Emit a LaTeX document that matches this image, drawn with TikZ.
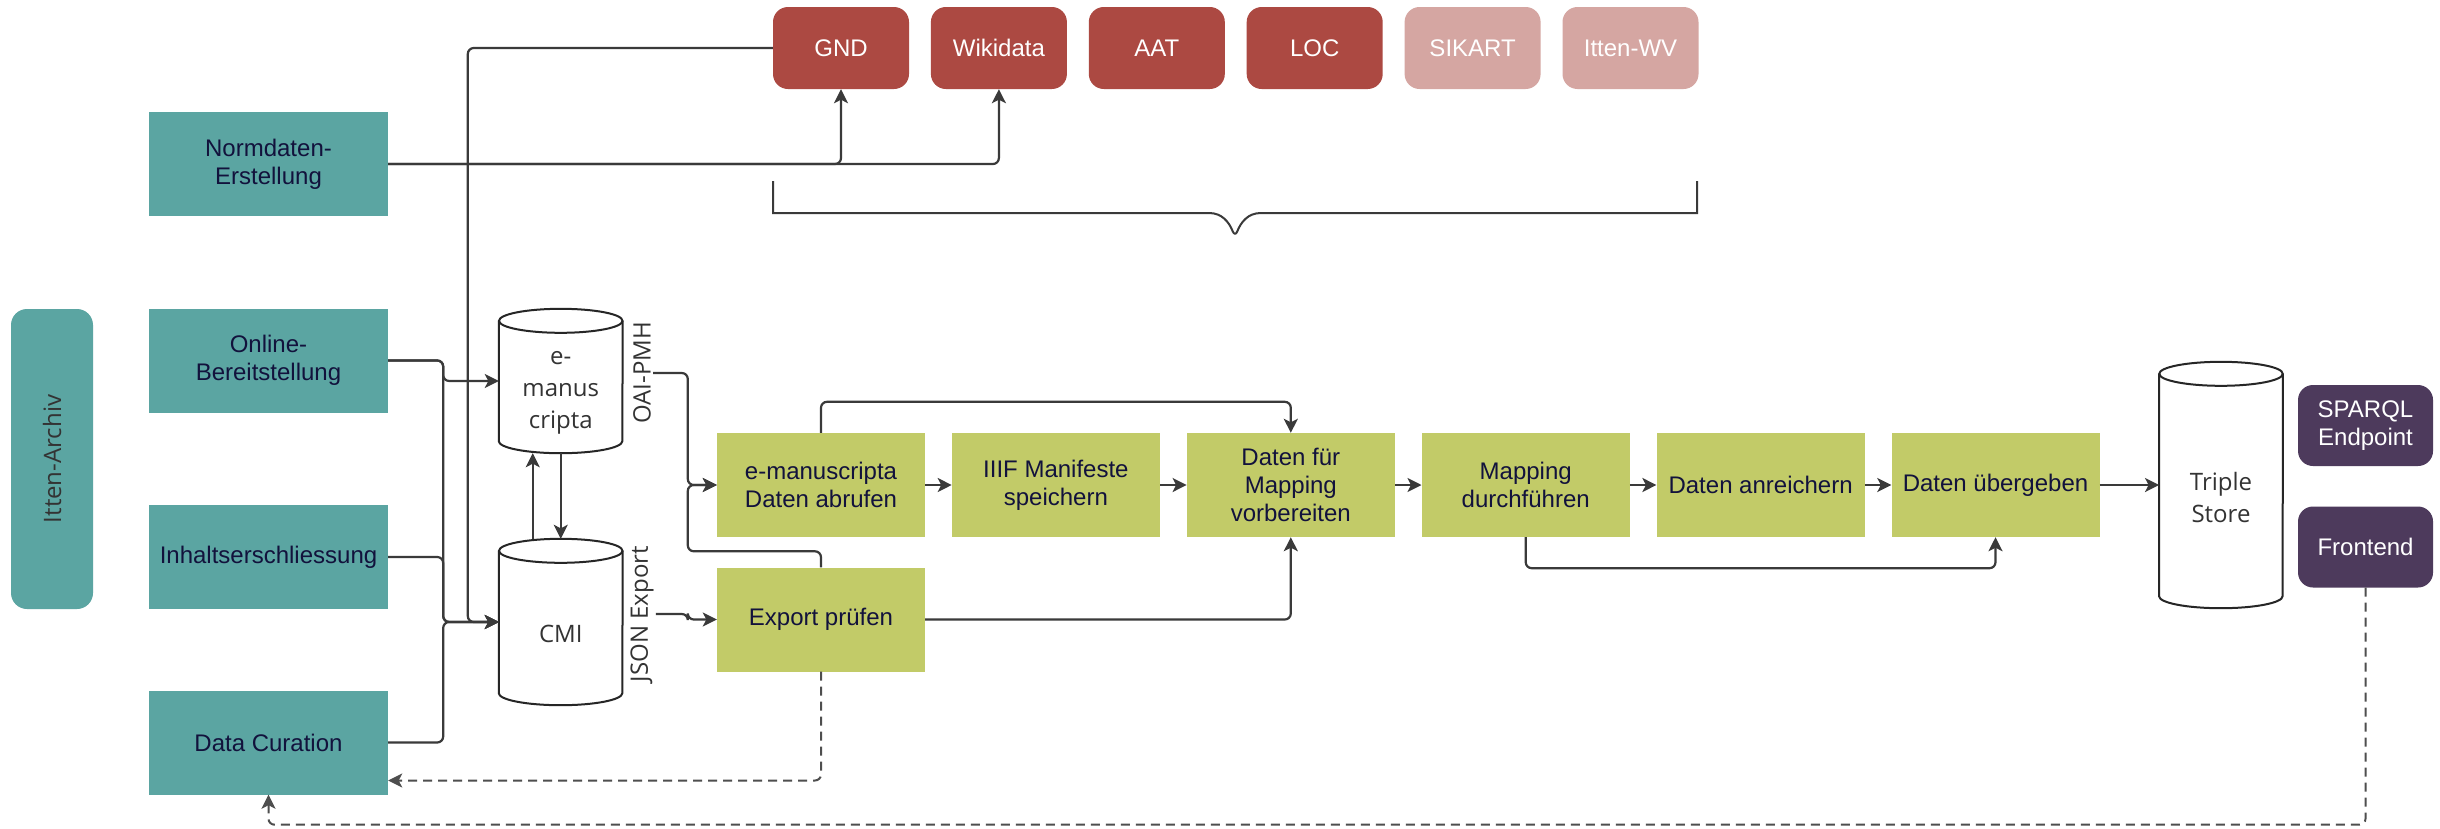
\documentclass[tikz,border=0pt]{standalone}
\usepackage{fontspec}
\setmainfont{Liberation Sans}
\newfontfamily\opensans{Open Sans}
\usetikzlibrary{positioning,arrows.meta,calc}

\definecolor{unitcol}{HTML}{5BA5A2}
\definecolor{taskcol}{HTML}{C2CB68}
\definecolor{authcol}{HTML}{AC4942}
\definecolor{authpale}{HTML}{D5A6A2}
\definecolor{accesscol}{HTML}{4D3A5C}
\definecolor{navytext}{HTML}{12123C}
\definecolor{linecol}{HTML}{3A3A3A}
\definecolor{dbtextcol}{HTML}{333333}

\newcommand{\dbshape}[1]{%
  \draw[dbline] ([yshift=-12pt]#1.north west) -- ([yshift=12pt]#1.south west)
    arc[start angle=180, end angle=360, x radius=61.75pt, y radius=12pt]
    -- ([yshift=-12pt]#1.north east);
  \draw[dbline] ([yshift=-12pt]#1.north) ellipse [x radius=61.75pt, y radius=12pt];}

\begin{document}
\begin{tikzpicture}[x=1pt,y=-1pt,
  every node/.style={font=\fontsize{24}{28}\selectfont},
  archivbox/.style={fill=unitcol, rounded corners=16pt, minimum width=82pt,
    minimum height=300pt, inner sep=0pt},
  unitbox/.style={fill=unitcol, text=navytext, minimum width=239pt,
    minimum height=104pt, align=center, inner sep=0pt},
  authbox/.style={fill=authcol, text=white, rounded corners=15pt,
    minimum width=136pt, minimum height=82pt, inner sep=0pt},
  authpalebox/.style={authbox, fill=authpale},
  taskbox/.style={fill=taskcol, text=navytext, minimum width=208pt,
    minimum height=104pt, align=center, inner sep=0pt},
  accessbox/.style={fill=accesscol, text=white, rounded corners=15pt,
    minimum width=135pt, minimum height=81pt, align=center, inner sep=0pt},
  db/.style={minimum width=123.5pt, inner sep=0pt},
  dbtext/.style={font=\opensans\fontsize{24}{32}\selectfont, text=dbtextcol,
    align=center},
  dbline/.style={line width=2pt, draw=black!85},
  sidelabel/.style={font=\opensans\fontsize{24}{28}\selectfont, text=dbtextcol,
    rotate=90, inner sep=2pt},
  link/.style={line width=2.2pt, draw=linecol, rounded corners=6pt},
  conn/.style={link, -{Stealth[length=14pt,width=14pt,inset=3.5pt]}},
  back/.style={conn, line width=2pt, draw=linecol!90, dash pattern=on 9pt off 6pt}]

  \path[use as bounding box, fill=white] (0,0) rectangle (2440,828);

  \node (archiv) [archivbox] at (52,459) {};
  \node [sidelabel] at (archiv) {Itten-Archiv};

  \node (normdaten) [unitbox] at (268.5,164) {Normdaten-\\Erstellung};
  \node (online) [unitbox] at (268.5,360.5) {Online-\\Bereitstellung};
  \node (inhalt) [unitbox] at (268.5,557) {Inhaltserschliessung};
  \node (datacur) [unitbox] at (268.5,742.5) {Data Curation};

  \node (gnd) [authbox] at (841,48) {GND};
  \node (wikidata) [authbox, right=21.5pt of gnd] {Wikidata};
  \node (aat) [authbox, right=21.5pt of wikidata] {AAT};
  \node (loc) [authbox, right=21.5pt of aat] {LOC};
  \node (sikart) [authpalebox, right=21.5pt of loc] {SIKART};
  \node (ittenwv) [authpalebox, right=21.5pt of sikart] {Itten-WV};

  \node (emc) [db, minimum height=144pt, label={[dbtext,yshift=-12pt]center:{e-\\manus\\cripta}}] at (560.75,381) {};
  \node (cmi) [db, minimum height=166pt, label={[dbtext,yshift=-12pt]center:CMI}] at (560.75,622) {};
  \dbshape{emc}
  \dbshape{cmi}

  \node (oai) [sidelabel] at (642,373) {OAI-PMH};
  \node (json) [sidelabel] at (642,614) {JSON Export};

  \node (abruf) [taskbox] at (821,485) {e-manuscripta\\Daten abrufen};
  \node (iiif) [taskbox, right=26.5pt of abruf] {IIIF Manifeste\\speichern};
  \node (vorb) [taskbox, right=26.5pt of iiif] {Daten für\\Mapping\\vorbereiten};
  \node (mapping) [taskbox, right=26.5pt of vorb] {Mapping\\durchführen};
  \node (anreich) [taskbox, right=26.5pt of mapping] {Daten anreichern};
  \node (uebergeb) [taskbox, right=26.5pt of anreich] {Daten übergeben};
  \node (export) [taskbox] at (821,619.5) {Export prüfen};

  \node (store) [db, minimum height=246pt, label={[dbtext,yshift=-12pt]center:{Triple\\Store}}] at (2221,485) {};
  \dbshape{store}

  \node (sparql) [accessbox] at (2365.5,425.5) {SPARQL\\Endpoint};
  \node (frontend) [accessbox] at (2365.5,547) {Frontend};

  \draw[link, line width=2pt] (773,181) -- (773,207) .. controls (773,213) .. (779,213)
    -- (1203,213) .. controls (1222,213) and (1229,222) .. (1235,237)
    .. controls (1241,222) and (1248,213) .. (1267,213)
    -- (1691,213) .. controls (1697,213) .. (1697,207) -- (1697,181);

  \draw[conn] (normdaten.east) -| (gnd.south);
  \draw[conn] (normdaten.east) -| (wikidata.south);
  \draw[conn] (gnd.west) -| ([xshift=-31pt]cmi.west) -- (cmi.west);
  \draw[conn] (online.east) -- ++(55,0) |- (emc.west);
  \draw[conn] (online.east) -- ++(55,0) |- (cmi.west);
  \draw[conn] (inhalt.east) -- ++(55,0) |- (cmi.west);
  \draw[conn] (datacur.east) -- ++(55,0) |- (cmi.west);
  \draw[conn] ([xshift=-28pt]cmi.north) -- ([xshift=-28pt]emc.south);
  \draw[conn] (emc.south) -- (cmi.north);

  \draw[conn] (oai.south) -| ([xshift=-29pt]abruf.west) -- (abruf.west);
  \draw[conn] (json.south) -| ([xshift=-29pt]export.west) -- (export.west);
  \draw[conn] (export.north) -- ++(0,-16) -| ([xshift=-29pt]abruf.west) -- (abruf.west);

  \draw[conn] (abruf) -- (iiif);
  \draw[conn] (iiif) -- (vorb);
  \draw[conn] (vorb) -- (mapping);
  \draw[conn] (mapping) -- (anreich);
  \draw[conn] (anreich) -- (uebergeb);
  \draw[conn] (uebergeb) -- (store);
  \draw[conn] (abruf.north) -- ++(0,-31) -| (vorb.north);
  \draw[conn] (export.east) -| (vorb.south);
  \draw[conn] (mapping.south) -- ++(0,31) -| (uebergeb.south);

  \draw[back] (export.south) |- ([yshift=-38pt]datacur.east);
  \draw[back] (frontend.south) -- ++(0,237) -| (datacur.south);
\end{tikzpicture}
\end{document}
